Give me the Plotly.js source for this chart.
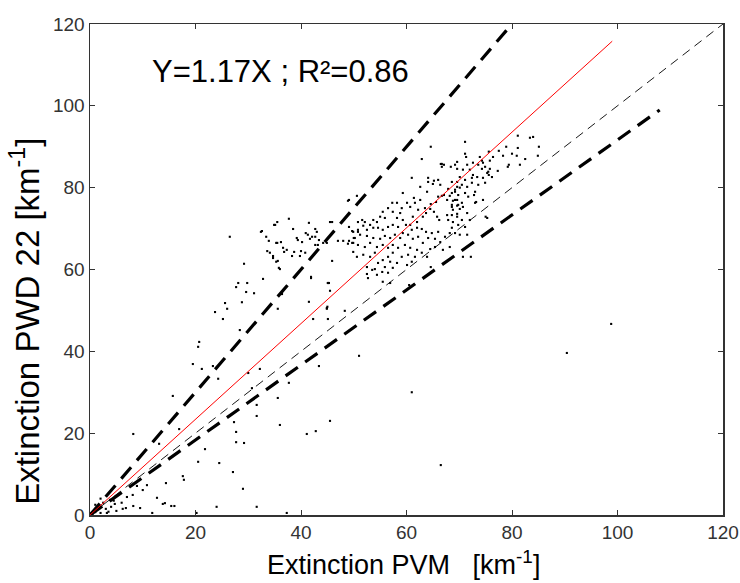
<!DOCTYPE html>
<html>
<head>
<meta charset="utf-8">
<script src="https://cdn.plot.ly/plotly-3.0.1.min.js"></script>
<style>html,body{margin:0;padding:0;background:#fff;}#chart{width:740px;height:583px;}</style>
</head>
<body>
<div id="chart"></div>
<script>
// Scatter data: Extinction PVM (x) vs PWD 22 (y), km^-1
const pvm = [
1,2,1.5,3,2.5,0.5,4,3.5,5,4.5,2,1,6,3.8,4.7,1.9,1,3.2,
6.2,6.8,8.2,9.5,7,8.1,10,8.9,10.8,12.7,13.8,15.4,16,14.2,11.8,20.2,14.4,17.6,17.8,24,31.6,29,27.1,20.5,24.5,21.8,13.1,16.9,8.2,15.7,27.7,27.7,29.2,27.3,31.6,31.6,36,35.6,37.3,41.1,42.8,45.5,37.7,43.4,51,61,66.5,90.4,98.8,42.3,45,44.9,45.1,45.1,32.2,30.7,30,24.3,23.3,21.2,19.5,20.5,20.7,28.4,25.2,23.7,26,25.6,28.8,31.1,29.6,29.8,28.1,27.7,35.6,36.4,32.8,29.2,26.5,
32.4,32.6,33.4,33.9,34.9,35.5,37.7,38.5,41.5,40.9,35.3,36.2,33.6,34.1,34.7,34.7,35.6,36.6,37.3,36.8,38.7,38.3,39.2,39.4,40.2,40,39.8,40.8,41.3,42.7,43,42.1,41.7,42.7,43.4,42.7,43.2,44.2,44.9,35.8,35.3,36,41.9,44.9,45.5,45.9,49.1,49.1,49.7,50.8,50.8,47,48,48.9,49.1,50,49.9,45.9,45.3,35.1,35.5,48.9,50.6,41.9,45.1,45.5,41.5,48.3,52.5,54,60.5,64.6,68.2,71.5,72.2,
62.9,66.5,67.1,69.2,66.7,69.6,64.1,64.1,65.2,66,65,66.4,62.6,63.9,68.6,69.6,67.9,69.2,66,66.7,65.6,67.1,68.2,67.7,68.8,69.6,68.6,69.8,64.6,64.5,65.2,65.8,66.2,67.7,67.9,69.6,63.5,63.7,63.1,62.6,61.4,61.6,60.7,62.2,61.2,62,60.7,59.3,60.1,59.1,58.2,57.3,56.5,57.4,58.8,58.2,59.3,59.9,55.5,55,55.9,54.4,53.7,53.1,52.1,51.6,51.8,50.8,49.9,52.5,53.7,54.6,55.5,56.5,57.4,58.4,61,62,62.9,63.7,64.8,66,64.1,65.4,66.4,67.3,68.2,66.9,65.4,64.5,63.1,62.2,61.2,60.3,59.3,58.8,57.8,56.9,55.9,55,53.7,52.5,51.2,50.2,49.7,50.8,52.1,53.1,54.4,55.5,56.5,57.4,58.4,59.7,60.7,62,62.9,63.9,61.6,60.3,59.1,57.4,56.5,56.9,55.5,54.6,55.9,55.4,56.5,57.4,58.2,54,53.1,51.8,50.6,49.9,52.5,53.5,54.4,52.7,60.1,61,55.5,56.9,
71.1,81.1,83.4,84,85.1,78.9,77.5,81.1,80,78.3,80.9,84.9,82.5,75.6,76.4,75.8,73.9,74.3,71.1,71.3,69.6,71.5,70.7,72.6,73.6,74.5,74.3,74.9,75.8,75.3,75.6,76.2,75.5,77.3,79.2,79.4,81.5,72,72.6,72.4,73.4,74.5,74.9,73.6,72.4,71.1,70.1,69.6,70.5,71.5,70.1,69.2,68.6,69.8,71.1,71.7,73,72.8,69.2,68.6,69.6,70.5,68.8,70.1,70.7,68.6,69.6,70.5,69.8,68.8,68.6,71.1,72,71.5,73,69.2,70.1,74.5,75.3,70.7,
61,64.6,66.7,68.4,75,73.2
];
const pwd = [
1,0.5,2,1.5,3,0.3,2,0.8,1,3.5,4,2.5,3,3.7,2.7,2,0.7,0.5,
1.5,1.7,2.2,1.7,4.4,4.9,6.1,7.1,7.3,4.2,2.7,2.2,2.2,2.9,0.5,0.5,7.8,9.5,8.6,2,2,6.4,10.5,13,12.7,16.1,17.4,21,19.8,29.1,20.3,17.8,17.6,22.7,24.2,26.9,22,28.6,0.5,19.8,20.5,23,32.3,36.4,38.9,30,12.2,39.6,46.7,47.9,50.9,50.6,47.9,56.7,35.7,31,34.7,33.3,36.4,35.7,36.9,41.1,42.3,45.2,47.9,49.6,50.4,51.8,52,54.2,54.5,56.7,56.7,55.7,50.4,54,57.7,61.4,68,
69.2,69.4,68,67,70.9,71.6,72.4,69.9,71.4,68.9,66.5,66.7,64.5,64.1,63.3,62.8,62.1,65.3,64.8,64.3,64.3,63.3,67.7,67.2,66.7,64.5,63.3,64.1,68.5,69.9,69.2,68,67.5,68,67.2,66,66,66.5,66.5,60.4,61.9,60.1,57.9,50.4,71.6,71.6,77,70.4,69.4,69.2,71.6,67,67,66.3,67,67.7,66.5,62.1,56.7,70.9,66.5,76.8,78,58.2,56.7,54.8,52.1,49.9,58.9,60.1,56.2,60.6,65.5,68.5,63.1,
87,85.8,85.6,85.6,85.1,84.6,82.4,81.4,81.7,81.9,80.9,80.7,80.2,79,81.4,80.2,79.7,79,77.8,78,76.5,78.2,78,77,76.8,77,75.3,75.8,76,74.8,74.1,72.9,72.1,73.3,72.1,73.6,75,73.8,72.9,77,77.5,76.3,75.3,74.6,72.9,71.6,70.9,78.7,76.3,75,76.3,76.3,75,74.1,73.8,72.6,72.1,70.9,74.1,72.9,72.6,71.6,72.1,70.9,71.6,72.1,70.7,69.7,69.2,69.7,70.2,70.2,69.7,70.4,70.9,70.4,69.7,70.2,69.9,69.2,68.9,69.2,67.7,67.5,66.7,68,68.9,64.8,65.5,65,66.5,68,67.5,68.5,68.9,67.7,68.5,67.7,68.2,67.5,67.7,68.2,68.5,67.7,66.5,66,65.5,66.5,65.5,66,65.3,66,65.3,66,65.3,64.8,64.1,63.1,63.1,63.6,63.1,64.1,63.1,61.9,62.3,61.6,60.6,59.4,59.2,60.4,61.6,64.1,63.1,63.6,63.1,64.3,60.6,59.9,58.7,57.9,61.1,61.9,57,56.7,
91.2,92.7,92.2,92.4,90,90,89,89.7,88.3,87.8,87.8,87.8,87,88.8,87.5,86.6,87.5,86.6,88.3,87.5,86.3,85.6,84.4,86.1,85.6,86.1,84.6,85.1,84.6,83.6,83.1,82.6,83.9,84.1,85.1,85.6,85.6,84.4,83.1,82.4,82.6,82.4,81.2,80.7,81.2,81.9,82.6,81.4,80.7,80.2,80,79.5,78.7,78.2,78.7,77.8,79,78.2,77,75.8,75.6,76.3,74.6,74.8,75.3,73.3,72.9,72.1,70.9,71.6,70.2,70.4,72.1,73.8,76.3,68.9,68.5,77,72.6,63.1,
82.4,90,85.8,85.1,72.9,76.5
];
// Reference / fit lines (endpoints)
const oneToOneX = [0, 120], oneToOneY = [0, 120];
const fitX = [0, 99], fitY = [0, 115.8];
const upperX = [0, 80], upperY = [0, 120];
const lowerX = [0, 108], lowerY = [0, 99];
const tickVals = [0, 20, 40, 60, 80, 100, 120];

const TICKFONT = "'Liberation Sans Narrow', 'Arial Narrow', Arial, sans-serif";
const FONT = "Arial, 'Liberation Sans', sans-serif";

const traces = [
  {x: pvm, y: pwd, type: 'scatter', mode: 'markers',
   marker: {color: '#000', size: 2.1, symbol: 'square'}, hoverinfo: 'skip'},
  {x: oneToOneX, y: oneToOneY, type: 'scatter', mode: 'lines',
   line: {color: '#000', width: 0.9, dash: '9px,6px'}},
  {x: upperX, y: upperY, type: 'scatter', mode: 'lines',
   line: {color: '#000', width: 3.2, dash: '15px,9px'}},
  {x: lowerX, y: lowerY, type: 'scatter', mode: 'lines',
   line: {color: '#000', width: 3.2, dash: '15px,9px'}},
  {x: fitX, y: fitY, type: 'scatter', mode: 'lines',
   line: {color: '#ff0000', width: 1}}
];

const axisCommon = {
  range: [0, 120], tickvals: tickVals, ticktext: tickVals.map(String),
  ticks: 'inside', ticklen: 5, tickwidth: 1, tickcolor: '#333',
  showline: true, linecolor: '#333', linewidth: 1.5, mirror: 'ticks',
  showgrid: false, zeroline: false,
  tickfont: {family: TICKFONT, size: 19, color: '#333'}
};

const layout = {
  width: 740, height: 583,
  margin: {l: 90, r: 17, t: 24, b: 68},
  paper_bgcolor: '#fff', plot_bgcolor: '#fff',
  showlegend: false,
  xaxis: Object.assign({}, axisCommon),
  yaxis: Object.assign({}, axisCommon),
  annotations: [
    {text: 'Y=1.17X ; R²=0.86', xref: 'x', yref: 'y', x: 36.2, y: 108.3,
     xanchor: 'center', yanchor: 'middle',
     showarrow: false, font: {family: FONT, size: 31, color: '#000'}},
    {text: 'Extinction PVM\u00A0\u00A0\u00A0[km<sup>-1</sup>]', xref: 'paper', yref: 'paper',
     x: 0.495, y: -0.098, xanchor: 'center', yanchor: 'middle',
     showarrow: false, font: {family: FONT, size: 27, color: '#000'}},
    {text: 'Extinction PWD 22 [km<sup>-1</sup>]', xref: 'paper', yref: 'paper',
     x: -0.103, y: 0.395, xanchor: 'center', yanchor: 'middle', textangle: -90,
     showarrow: false, font: {family: FONT, size: 33, color: '#000'}}
  ]
};

Plotly.newPlot('chart', traces, layout, {displayModeBar: false, staticPlot: true});
</script>
</body>
</html>
